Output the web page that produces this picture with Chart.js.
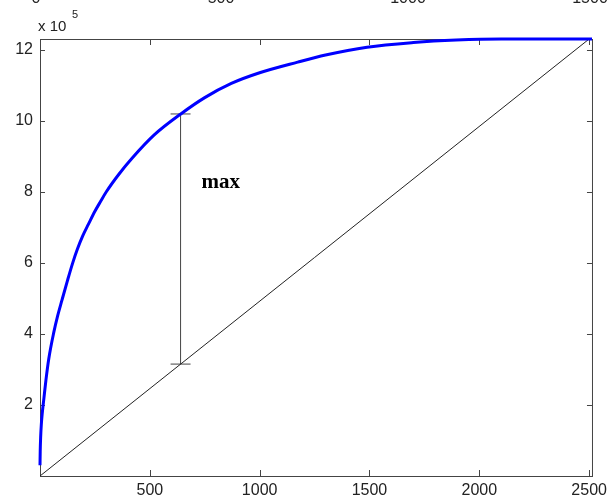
<!DOCTYPE html>
<html>
<head>
<meta charset="utf-8">
<script src="https://cdn.jsdelivr.net/npm/chart.js@4/dist/chart.umd.min.js"></script>
<style>
body { margin: 0; background: #fff; }
canvas { display: block; }
</style>
</head>
<body>
<canvas id="graph" width="612" height="499"></canvas>
<script>
// values (y in units of 10^5)
var curveX = [0, 1, 3, 6, 10, 18, 27, 40, 63, 80, 100, 125, 149, 170, 194, 220, 250, 275, 302, 360, 420, 520, 641, 750, 871, 1000, 1173, 1300, 1489, 1700, 1895, 2100, 2300, 2513];
var curveY = [0.3, 0.7, 1.1, 1.45, 1.75, 2.2, 2.7, 3.3, 4.05, 4.5, 4.95, 5.5, 6.0, 6.38, 6.75, 7.08, 7.45, 7.72, 8.0, 8.5, 8.95, 9.6, 10.19, 10.65, 11.05, 11.35, 11.65, 11.85, 12.07, 12.2, 12.27, 12.3, 12.3, 12.3];
var diagX = [0, 2500];
var diagY = [0, 12.3];
var barX = [640, 640];
var barY = [3.15, 10.19];
var xTicks = [500, 1000, 1500, 2000, 2500];
var yTicks = [2, 4, 6, 8, 10, 12];
var topLabels = ['0', '500', '1000', '1500'];
var maxLabel = 'max';
var maxAt = [735, 8.25];

var sans = "'Liberation Sans', Arial, sans-serif";

function toPoints(xs, ys) {
  var pts = [];
  for (var i = 0; i < xs.length; i++) {
    pts.push({x: xs[i], y: ys[i]});
  }
  return pts;
}

// matlab style box with inward ticks on all four sides
var boxPlugin = {
  id: 'box',
  beforeDatasetsDraw: function(chart) {
    var ctx = chart.ctx;
    var a = chart.chartArea;
    var sx = chart.scales.x, sy = chart.scales.y;
    ctx.save();
    ctx.strokeStyle = '#444';
    ctx.lineWidth = 1;
    ctx.strokeRect(a.left + 0.5, a.top + 0.5, a.right - a.left, a.bottom - a.top);
    ctx.beginPath();
    xTicks.forEach(function(v) {
      var px = Math.round(sx.getPixelForValue(v)) + 0.5;
      ctx.moveTo(px, a.bottom); ctx.lineTo(px, a.bottom - 6);
      ctx.moveTo(px, a.top); ctx.lineTo(px, a.top + 6);
    });
    yTicks.forEach(function(v) {
      var py = Math.round(sy.getPixelForValue(v)) + 0.5;
      ctx.moveTo(a.left, py); ctx.lineTo(a.left + 5, py);
      ctx.moveTo(a.right, py); ctx.lineTo(a.right - 5, py);
    });
    ctx.stroke();
    ctx.restore();
  },
  afterDraw: function(chart) {
    var ctx = chart.ctx;
    var sx = chart.scales.x, sy = chart.scales.y;
    ctx.save();
    ctx.fillStyle = '#222';
    ctx.textBaseline = 'alphabetic';
    ctx.textAlign = 'left';
    ctx.font = '15px ' + sans;
    ctx.fillText('x 10', 38, 31);
    ctx.font = '11px ' + sans;
    ctx.fillText('5', 72, 18);

    // cut off labels of the figure above
    var topPos = [36, 221, 408, 590];
    ctx.font = '16px ' + sans;
    ctx.textAlign = 'center';
    topLabels.forEach(function(t, i) {
      ctx.fillText(t, topPos[i], 3);
    });

    ctx.fillStyle = '#000';
    ctx.textAlign = 'left';
    ctx.textBaseline = 'middle';
    ctx.font = "bold 21px 'Liberation Serif', 'Times New Roman', serif";
    ctx.fillText(maxLabel, sx.getPixelForValue(maxAt[0]), sy.getPixelForValue(maxAt[1]));
    ctx.restore();
  }
};

function init() {
  var ctx = document.getElementById('graph');
  new Chart(ctx, {
    type: 'line',
    data: {
      datasets: [{
        label: 'curve',
        data: toPoints(curveX, curveY),
        borderColor: '#0000ff',
        borderWidth: 3,
        pointRadius: 0,
        cubicInterpolationMode: 'monotone',
        clip: false,
        order: 0
      }, {
        label: 'diagonal',
        data: toPoints(diagX, diagY),
        borderColor: '#222',
        borderWidth: 1,
        pointRadius: 0,
        order: 1
      }, {
        label: 'max',
        data: toPoints(barX, barY),
        borderColor: '#444',
        borderWidth: 1,
        pointStyle: 'line',
        pointRadius: 10,
        pointBorderWidth: 1,
        pointBorderColor: '#444',
        order: 2
      }]
    },
    options: {
      responsive: false,
      animation: false,
      layout: { padding: { top: 39, right: 15, left: 0, bottom: 0 } },
      plugins: { legend: { display: false }, tooltip: { enabled: false } },
      scales: {
        x: {
          type: 'linear',
          min: 0,
          max: 2513,
          afterBuildTicks: function(s) { s.ticks = xTicks.map(function(v) { return {value: v}; }); },
          afterFit: function(s) { s.height = 23; },
          grid: { display: false, drawTicks: false },
          border: { display: false },
          ticks: {
            color: '#222', font: { family: sans, size: 16 }, padding: 5, maxRotation: 0, autoSkip: false,
            callback: function(v) { return String(v); }
          }
        },
        y: {
          type: 'linear',
          min: 0,
          max: 12.3,
          afterBuildTicks: function(s) { s.ticks = yTicks.map(function(v) { return {value: v}; }); },
          afterFit: function(s) { s.width = 40; },
          grid: { display: false, drawTicks: false },
          border: { display: false },
          ticks: { color: '#222', font: { family: sans, size: 16 }, padding: 7 }
        }
      }
    },
    plugins: [boxPlugin]
  });
}

init();
</script>
</body>
</html>
